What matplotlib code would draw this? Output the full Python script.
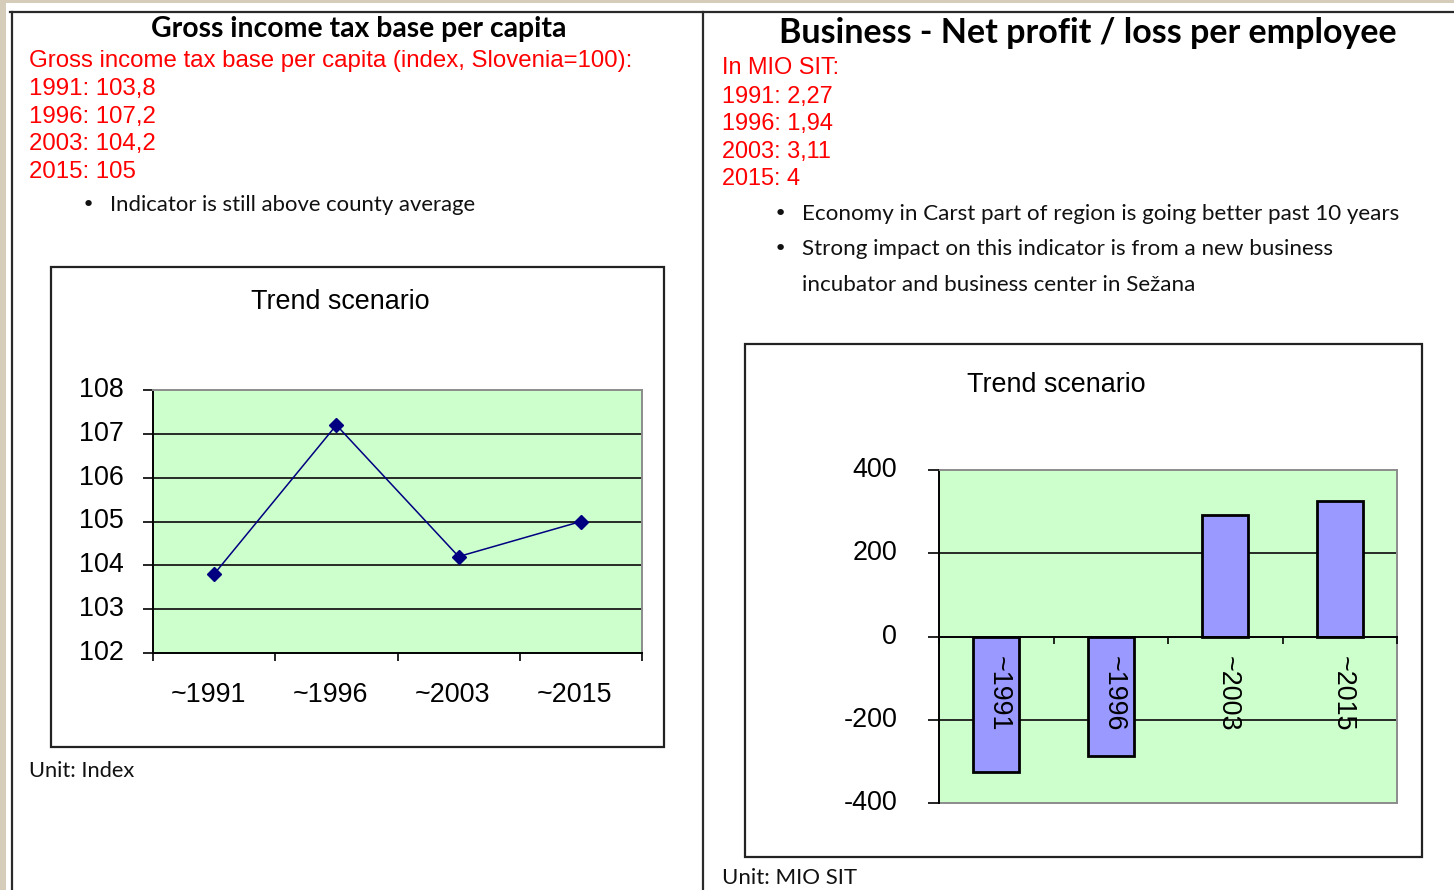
import numpy as np
import matplotlib
matplotlib.use("Agg")
import matplotlib.pyplot as plt
from matplotlib import font_manager
from matplotlib.patches import Rectangle
from matplotlib.lines import Line2D
from matplotlib.transforms import ScaledTranslation

# ---------------- data ----------------
categories = ["~1991", "~1996", "~2003", "~2015"]
tax_index = [103.8, 107.2, 104.2, 105.0]
tax_yticks = [102, 103, 104, 105, 106, 107, 108]
profit = [-326, -288, 293, 326]
profit_yticks = [-400, -200, 0, 200, 400]

left_title = "Gross income tax base per capita"
left_red = ["Gross income tax base per capita (index, Slovenia=100):",
            "1991: 103,8", "1996: 107,2", "2003: 104,2", "2015: 105"]
left_bullets = ["Indicator is still above county average"]
left_unit = "Unit: Index"

right_title = "Business - Net profit / loss per employee"
right_red = ["In MIO SIT:", "1991: 2,27", "1996: 1,94", "2003: 3,11", "2015: 4"]
right_bullets = ["Economy in Carst part of region is going better past 10 years",
                 "Strong impact on this indicator is from a new business",
                 "incubator and business center in Sežana"]
right_unit = "Unit: MIO SIT"
chart_title = "Trend scenario"

# ---------------- setup ----------------
W, H = 1454, 890
fig = plt.figure(figsize=(W / 100, H / 100), dpi=100)
fig.patch.set_facecolor("#D5CDB9")
renderer = fig.canvas.get_renderer()

names = {f.name for f in font_manager.fontManager.ttflist}
ARIAL = "Liberation Sans"
NARROW = "Liberation Sans Narrow" if "Liberation Sans Narrow" in names else ARIAL
GILL = "Lato" if "Lato" in names else "DejaVu Sans"
DY = 2  # vertical nudge (px) for figure texts


def X(px):
    return px / W


def Y(py):
    return 1 - py / H


def fit_text(x, yc, s, width, family, weight="normal", color="black", ha="left", size=None):
    t = fig.text(X(x), Y(yc + DY), s, fontsize=16 if size is None else size, family=family,
                 weight=weight, color=color, ha=ha, va="center")
    if size is None:
        w = t.get_window_extent(renderer).width
        t.set_fontsize(16 * width / w)
    return t


def shift_labels(labels, dx_px, dy_px):
    off = ScaledTranslation(dx_px / 100, -dy_px / 100, fig.dpi_scale_trans)
    for lab in labels:
        lab.set_transform(lab.get_transform() + off)


# white panel + frame lines
fig.add_artist(Rectangle((X(6), 0), 1 - X(6), Y(3), transform=fig.transFigure,
                         facecolor="white", edgecolor="none", zorder=0))
for xs, ys in [([10, W], [12, 12]), ([11.5, 11.5], [12, H]), ([703, 703], [12, H])]:
    fig.add_artist(Line2D([X(v) for v in xs], [Y(v) for v in ys], transform=fig.transFigure,
                          color="#2a2a2a", lw=1.6))

# ---------------- texts ----------------
fit_text(358.5, 27, left_title, 417, GILL, weight="bold", ha="center")
fit_text(1088, 31, right_title, 620, GILL, weight="bold", ha="center")

t = fit_text(29, 59, left_red[0], 604, ARIAL, color="#FF0000")
fs = t.get_fontsize()
for i, s in enumerate(left_red[1:]):
    fit_text(29, 87 + 27.7 * i, s, 0, ARIAL, color="#FF0000", size=fs)

t = fit_text(722, 94, right_red[1], 111, NARROW, color="#FF0000")
fs = t.get_fontsize()
for i, s in enumerate(right_red):
    if i == 1:
        continue
    fit_text(722, 66 + 27.7 * i, s, 0, NARROW, color="#FF0000", size=fs)

t = fit_text(110, 203, left_bullets[0], 366, GILL, color="#111111")
bfs = t.get_fontsize()
fig.text(X(88), Y(203 + DY), "\u2022", fontsize=bfs, color="#111111", ha="center", va="center")

t = fit_text(802, 212, right_bullets[0], 597, GILL, color="#111111")
bfs2 = t.get_fontsize()
fit_text(802, 247, right_bullets[1], 0, GILL, color="#111111", size=bfs2)
fit_text(802, 283, right_bullets[2], 0, GILL, color="#111111", size=bfs2)
for yb in (212, 247):
    fig.text(X(780), Y(yb + DY), "\u2022", fontsize=bfs2, color="#111111", ha="center", va="center")

fit_text(29, 769, left_unit, 106, GILL, color="#111111")
fit_text(722, 876, right_unit, 135, GILL, color="#111111")

# chart boxes
for (x0, y0, x1, y1) in [(51, 267, 664, 747), (745, 344, 1422, 857)]:
    fig.add_artist(Rectangle((X(x0), Y(y1)), X(x1) - X(x0), Y(y0) - Y(y1),
                             transform=fig.transFigure, fill=False,
                             edgecolor="#222222", lw=1.6))

t = fit_text(1056, 383, chart_title, 179, ARIAL, ha="center")
cfs = t.get_fontsize()
fit_text(340, 300, chart_title, 0, ARIAL, ha="center", size=cfs)

xpos = np.arange(len(categories))
GRID = "#1a1a1a"
BORDER = "#8c8c8c"

# ---------------- line chart ----------------
ax1 = fig.add_axes([X(153), Y(653), (642 - 153) / W, (653 - 390) / H])
ax1.set_facecolor("#CCFFCC")
ax1.set_xlim(-0.5, 3.5)
ax1.set_ylim(tax_yticks[0], tax_yticks[-1])
for v in tax_yticks[1:-1]:
    ax1.axhline(v, color=GRID, lw=1.3, zorder=0.8)
ax1.plot(xpos, tax_index, color="#000080", lw=1.1, marker="D", ms=7,
         mfc="#000080", mec="#000080", zorder=3, clip_on=False)
ax1.set_yticks(tax_yticks)
ax1.set_yticklabels([str(v) for v in tax_yticks], family=ARIAL, fontsize=cfs)
ax1.tick_params(axis="y", direction="out", length=7, width=1.2, pad=14, colors="black")
ax1.set_xticks(xpos)
ax1.set_xticklabels(categories, family=ARIAL, fontsize=cfs)
ax1.set_xticks(np.arange(-0.5, 4, 1.0), minor=True)
ax1.tick_params(axis="x", which="major", length=0, pad=21)
ax1.tick_params(axis="x", which="minor", direction="out", length=6, width=1.2)
for sp in ("left", "bottom"):
    ax1.spines[sp].set_color("black")
    ax1.spines[sp].set_linewidth(1.4)
for sp in ("top", "right"):
    ax1.spines[sp].set_color(BORDER)
    ax1.spines[sp].set_linewidth(1.4)
shift_labels(ax1.get_yticklabels(), 0, -3)
shift_labels(ax1.get_xticklabels(), -6, 0)

# ---------------- bar chart ----------------
ax2 = fig.add_axes([X(939), Y(803), (1397 - 939) / W, (803 - 470) / H])
ax2.set_facecolor("#CCFFCC")
ax2.spines["bottom"].set_position(("data", 0))
ax2.set_axisbelow(False)
ax2.set_xlim(-0.5, 3.5)
ax2.set_ylim(profit_yticks[0], profit_yticks[-1])
for v in profit_yticks[1:-1]:
    if v != 0:
        ax2.axhline(v, color=GRID, lw=1.3, zorder=0.8)
ax2.bar(xpos, profit, width=0.4, color="#9999FF", edgecolor="black", lw=2.0, zorder=2)
ax2.set_yticks(profit_yticks)
ax2.set_yticklabels([str(v) for v in profit_yticks], family=ARIAL, fontsize=cfs)
ax2.tick_params(axis="y", direction="out", length=8, width=1.2, pad=22)
ax2.set_xticks(xpos)
ax2.set_xticklabels(categories, family=ARIAL, fontsize=cfs, rotation=270)
ax2.set_xticks(np.arange(-0.5, 4, 1.0), minor=True)
ax2.tick_params(axis="x", which="major", length=0, pad=14)
ax2.tick_params(axis="x", which="minor", direction="out", length=5, width=1.2)
ax2.spines["bottom"].set_color("black")
ax2.spines["bottom"].set_linewidth(1.4)
ax2.spines["left"].set_color("black")
ax2.spines["left"].set_linewidth(1.4)
for sp in ("top", "right"):
    ax2.spines[sp].set_color(BORDER)
    ax2.spines[sp].set_linewidth(1.4)
ax2.add_artist(Line2D([0, 1], [0, 0], transform=ax2.transAxes, color=BORDER,
                      lw=1.4, clip_on=False, zorder=2.4))
shift_labels(ax2.get_yticklabels(), 0, -3)
shift_labels(ax2.get_xticklabels(), 3, 0)

fig.savefig("out.png", dpi=100, facecolor=fig.get_facecolor())
